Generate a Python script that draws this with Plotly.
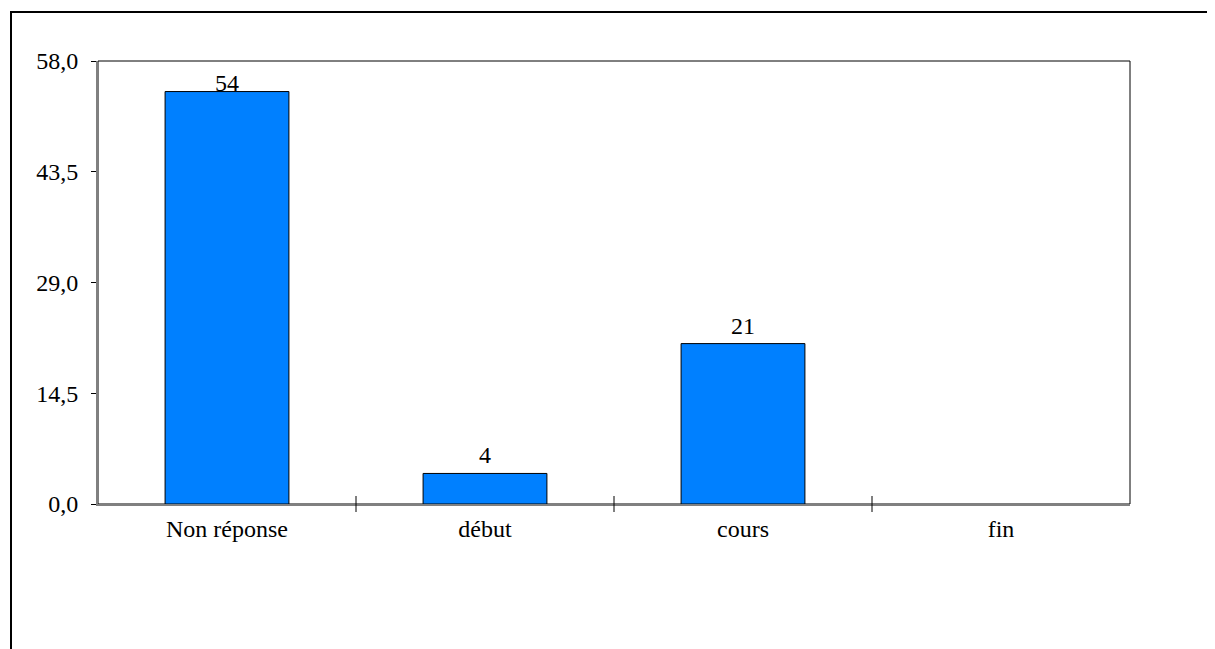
import plotly.graph_objects as go

categories = ["Non réponse", "début", "cours", "fin"]
values = [54, 4, 21, 0]
y_ticks = [0.0, 14.5, 29.0, 43.5, 58.0]

FONT = "Liberation Serif, Times New Roman, serif"
FS = 24
BAR_COLOR = "#0080FF"

fig = go.Figure()
fig.add_trace(go.Bar(
    x=categories, y=values,
    marker=dict(color=BAR_COLOR,
                line=dict(color="black", width=[1 if v > 0 else 0 for v in values])),
    hoverinfo="x+y",
))

# value labels
label_shift = {54: -6}
for c, v in zip(categories, values):
    if v > 0:
        fig.add_annotation(x=c, y=v, text=str(v), showarrow=False,
                           yanchor="bottom", yshift=label_shift.get(v, 3),
                           font=dict(family=FONT, size=FS, color="black"))

shapes = []
# plot frame (black) behind axis lines
shapes.append(dict(type="rect", xref="paper", yref="paper", x0=0, x1=1, y0=0, y1=1,
                   line=dict(color="black", width=1), layer="below"))
# category boundary ticks crossing the x axis
for i in range(len(categories) - 1):
    shapes.append(dict(type="line", xref="x", yref="paper", ysizemode="pixel", yanchor=0,
                       x0=i + 0.5, x1=i + 0.5, y0=-8, y1=8,
                       line=dict(color="black", width=1)))
# outer chart frame: top and left edges
shapes.append(dict(type="line", xref="paper", yref="paper",
                   xsizemode="pixel", ysizemode="pixel", xanchor=0, yanchor=1,
                   x0=-88, x1=1200, y0=49, y1=49,
                   line=dict(color="black", width=2), layer="below"))
shapes.append(dict(type="line", xref="paper", yref="paper",
                   xsizemode="pixel", ysizemode="pixel", xanchor=0, yanchor=1,
                   x0=-87, x1=-87, y0=50, y1=-700,
                   line=dict(color="black", width=2), layer="below"))
fig.update_layout(shapes=shapes)

fig.update_layout(
    width=1207, height=641,
    margin=dict(l=90, r=85, t=53, b=145),
    paper_bgcolor="white", plot_bgcolor="white",
    font=dict(family=FONT, size=FS, color="black"),
    separators=", ",
    showlegend=False,
    bargap=0.52,
)
fig.update_xaxes(
    type="category", showline=True, linecolor="#808080", linewidth=2,
    ticks="", showgrid=False, ticklabelstandoff=2,
    tickfont=dict(family=FONT, size=FS, color="black"),
)
fig.update_yaxes(
    range=[0, 58], tickvals=y_ticks, tickformat=".1f",
    showline=True, linecolor="#808080", linewidth=2,
    ticks="outside", ticklen=5, tickcolor="black", tickwidth=1,
    showgrid=False, zeroline=False, ticklabelstandoff=8,
    tickfont=dict(family=FONT, size=FS, color="black"),
)

fig.write_html("out.html")
